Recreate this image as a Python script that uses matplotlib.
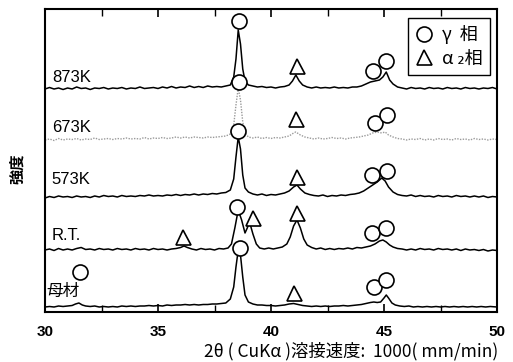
import matplotlib
matplotlib.use("Agg")
import matplotlib.pyplot as plt
from matplotlib.lines import Line2D
from matplotlib.ticker import MultipleLocator

plt.rcParams['font.family'] = ['Liberation Sans', 'Noto Sans CJK JP', 'DejaVu Sans']
CJK = ['Noto Sans CJK JP', 'DejaVu Sans']

# ---- data: (2theta, relative intensity) ----
s873 = [(30.0,0),(30.2,1.5),(30.4,0),(30.6,1),(30.8,-0.5),(31.0,1),(31.2,0),(31.4,2),(31.6,0.5),(31.8,1),
        (32.0,-0.5),(32.2,1),(32.4,0.5),(32.6,1.5),(32.8,0),(33.0,1),(33.2,0.5),(33.4,1.5),(33.6,0),(33.8,1),
        (34.0,0.5),(34.2,2),(34.4,0.5),(34.6,1),(34.8,1.5),(35.0,0.5),(35.2,2),(35.4,1),(35.6,2.5),(35.8,1),
        (36.0,2),(36.2,1.5),(36.4,3),(36.6,1.5),(36.8,2.5),(37.0,1.5),(37.2,3),(37.4,2),(37.6,2.5),(37.8,2),
        (38.0,3),(38.2,4),(38.35,12),(38.45,30),(38.55,59),(38.65,45),(38.75,20),(38.85,8),(39.0,4),(39.2,3),
        (39.4,2),(39.6,2.5),(39.8,1.5),(40.0,2),(40.2,1),(40.4,2),(40.6,2.5),(40.8,4),(40.95,8),(41.1,14),
        (41.25,8),(41.4,4),(41.6,2),(41.8,1),(42.0,2),(42.2,1),(42.4,1.5),(42.6,1),(42.8,2),(43.0,1),
        (43.2,1.5),(43.4,1),(43.6,2),(43.8,2),(44.0,3),(44.2,5),(44.4,7),(44.6,8),(44.8,9),(44.95,12),
        (45.1,17),(45.25,9),(45.4,5),(45.6,2),(45.8,1),(46.0,0),(46.2,1.5),(46.4,0.5),(46.6,1),(46.8,0),
        (47.0,1.5),(47.2,0.5),(47.4,1),(47.6,0),(47.8,1.5),(48.0,0.5),(48.2,1),(48.4,0),(48.6,1.5),(48.8,0.5),
        (49.0,1),(49.2,0),(49.4,1),(49.6,0.5),(49.8,1.5),(50.0,0)]

s673 = [(30.0,0),(30.2,1),(30.4,-0.5),(30.6,1.5),(30.8,0),(31.0,1),(31.2,0.5),(31.4,1.5),(31.6,0),(31.8,1),
        (32.0,0.5),(32.2,2),(32.4,0.5),(32.6,1),(32.8,1.5),(33.0,0.5),(33.2,1.5),(33.4,1),(33.6,2),(33.8,1),
        (34.0,1.5),(34.2,1),(34.4,2.5),(34.6,1),(34.8,2),(35.0,1.5),(35.2,2.5),(35.4,1.5),(35.6,2),(35.8,3),
        (36.0,2),(36.2,3),(36.4,2),(36.6,3),(36.8,2.5),(37.0,2),(37.2,3),(37.4,2.5),(37.6,3),(37.8,3.5),
        (38.0,4),(38.2,6),(38.35,15),(38.45,35),(38.55,52),(38.65,40),(38.75,18),(38.85,7),(39.0,3),(39.2,2),
        (39.4,3),(39.6,1.5),(39.8,2.5),(40.0,1.5),(40.2,2.5),(40.4,2),(40.6,3),(40.8,4),(41.0,7),(41.1,8),
        (41.3,5),(41.5,3),(41.7,2),(41.9,1),(42.1,2),(42.3,1),(42.5,1.5),(42.7,2.5),(42.9,1.5),(43.1,2),
        (43.3,1),(43.5,2),(43.7,2.5),(43.9,3),(44.1,4),(44.3,5),(44.5,7),(44.7,8),(44.9,7),(45.05,8),
        (45.2,5),(45.4,3),(45.6,1.5),(45.8,1),(46.0,0),(46.2,1),(46.4,0.5),(46.6,1.5),(46.8,0),(47.0,1),
        (47.2,0),(47.4,1.5),(47.6,0.5),(47.8,1),(48.0,0),(48.2,1.5),(48.4,0.5),(48.6,1),(48.8,0),(49.0,1.5),
        (49.2,0.5),(49.4,1),(49.6,0),(49.8,1),(50.0,0.5)]

s573 = [(30.0,-1),(30.2,0.5),(30.4,-0.5),(30.6,1),(30.8,0),(31.0,0.5),(31.2,-0.5),(31.4,1),(31.6,0),(31.8,0.5),
        (32.0,-0.5),(32.2,1),(32.4,0),(32.6,1.5),(32.8,0.5),(33.0,1),(33.2,0),(33.4,1.5),(33.6,0.5),(33.8,1),
        (34.0,0.5),(34.2,1.5),(34.4,1),(34.6,2),(34.8,1),(35.0,1.5),(35.2,1),(35.4,2),(35.6,1.5),(35.8,2.5),
        (36.0,1.5),(36.2,2.5),(36.4,2),(36.6,3),(36.8,2),(37.0,3),(37.2,2.5),(37.4,3.5),(37.6,3),(37.8,4),
        (38.0,4.5),(38.2,7),(38.35,18),(38.45,40),(38.55,60),(38.65,48),(38.75,22),(38.85,9),(39.0,5),(39.2,3),
        (39.4,2),(39.6,3),(39.8,1.5),(40.0,2.5),(40.2,2),(40.4,3),(40.6,4),(40.8,6),(41.0,10),(41.15,12),
        (41.3,8),(41.5,4),(41.7,2.5),(41.9,1.5),(42.1,1),(42.3,2),(42.5,0.5),(42.7,1.5),(42.9,1),(43.1,2),
        (43.3,1.5),(43.5,2.5),(43.7,3),(43.9,4),(44.1,6),(44.3,9),(44.5,12),(44.7,15),(44.9,19),(45.05,16),
        (45.2,10),(45.4,5),(45.6,2.5),(45.8,1.5),(46.0,1),(46.2,2),(46.4,0.5),(46.6,1.5),(46.8,0.5),(47.0,1),
        (47.2,0),(47.4,1.5),(47.6,0.5),(47.8,1),(48.0,0),(48.2,1.5),(48.4,0.5),(48.6,1),(48.8,0),(49.0,1),
        (49.2,0),(49.4,1),(49.6,-0.5),(49.8,0.5),(50.0,0)]

sRT = [(30.0,0),(30.2,1),(30.4,-0.5),(30.6,1.5),(30.8,0),(31.0,1),(31.2,0),(31.4,1.5),(31.6,2.5),(31.8,0.5),
       (32.0,1),(32.2,0),(32.4,1.5),(32.6,0.5),(32.8,1),(33.0,0),(33.2,1.5),(33.4,0.5),(33.6,1),(33.8,0),
       (34.0,1.5),(34.2,0.5),(34.4,1),(34.6,0),(34.8,1.5),(35.0,0.5),(35.2,1),(35.4,0),(35.6,1),(35.8,1.5),
       (36.0,2.5),(36.15,4),(36.3,2.5),(36.5,1),(36.7,0),(36.9,1.5),(37.1,0.5),(37.3,1),(37.5,0),(37.7,1.5),
       (37.9,1),(38.1,2),(38.25,6),(38.4,22),(38.55,40),(38.7,30),(38.85,17),(38.95,22),(39.05,28),(39.2,16),
       (39.35,6),(39.5,2),(39.7,1),(39.9,2),(40.1,1),(40.3,2),(40.5,3),(40.7,6),(40.85,13),(41.0,24),
       (41.15,30),(41.3,22),(41.45,11),(41.6,5),(41.8,2.5),(42.0,1),(42.2,2),(42.4,0.5),(42.6,1.5),(42.8,0.5),
       (43.0,1.5),(43.2,1),(43.4,2),(43.6,1),(43.8,2.5),(44.0,2),(44.2,3),(44.4,4),(44.6,6),(44.8,9),
       (44.95,10),(45.1,8),(45.25,5),(45.4,3),(45.6,1.5),(45.8,1),(46.0,0),(46.2,1),(46.4,0),(46.6,1.5),
       (46.8,0.5),(47.0,1),(47.2,0),(47.4,1.5),(47.6,0.5),(47.8,1),(48.0,0),(48.2,1),(48.4,-0.5),(48.6,1),
       (48.8,0),(49.0,0.5),(49.2,-0.5),(49.4,0.5),(49.6,-1),(49.8,0),(50.0,-0.5)]

sBase = [(30.0,0),(30.2,0.5),(30.4,0),(30.6,1),(30.8,0.5),(31.0,1),(31.2,1.5),(31.35,3),(31.5,4),(31.65,2),
         (31.8,1),(32.0,0.5),(32.2,1),(32.4,0),(32.6,0.5),(32.8,0),(33.0,0.5),(33.2,0),(33.4,1),(33.6,0.5),
         (33.8,1),(34.0,0.5),(34.2,1),(34.4,1),(34.6,1.5),(34.8,1),(35.0,1.5),(35.2,1),(35.4,2),(35.6,1.5),
         (35.8,2),(36.0,2),(36.2,2.5),(36.4,2),(36.6,2.5),(36.8,2),(37.0,2.5),(37.2,2.5),(37.4,3),(37.6,3),
         (37.8,3.5),(38.0,4),(38.2,8),(38.35,20),(38.45,40),(38.55,57),(38.65,52),(38.75,30),(38.85,12),(39.0,5),
         (39.2,3),(39.4,2),(39.6,2),(39.8,1.5),(40.0,1.5),(40.2,1),(40.4,1.5),(40.6,2),(40.8,3),(41.0,3.5),
         (41.2,2.5),(41.4,1.5),(41.6,1),(41.8,0.5),(42.0,1),(42.2,0.5),(42.4,1),(42.6,0.5),(42.8,1),(43.0,1),
         (43.2,1.5),(43.4,1),(43.6,1.5),(43.8,2),(44.0,2.5),(44.2,3.5),(44.4,4.5),(44.55,5),(44.7,4.5),(44.85,5),
         (45.0,9),(45.1,12),(45.2,9),(45.35,4),(45.5,2),(45.7,1),(45.9,0.5),(46.1,1),(46.3,0),(46.5,0.5),
         (46.7,0),(46.9,0.5),(47.1,0),(47.3,0.5),(47.5,0),(47.7,0.5),(47.9,0),(48.1,0.5),(48.3,0),(48.5,0.5),
         (48.7,0),(48.9,0.5),(49.1,0),(49.3,0.5),(49.5,0),(49.7,0.5),(50.0,0)]

series_names = ["873K", "673K", "573K", "R.T.", "母材"]
series_data = [s873, s673, s573, sRT, sBase]
offsets = [223, 172, 115, 62, 5]

# phase markers (2theta, level)
gamma_pts = [(38.6,291),(44.5,241),(45.1,251),
             (38.6,230),(44.6,189),(45.15,197),
             (38.55,181),(44.45,137),(45.15,141),
             (38.5,105),(44.45,79),(45.1,84),
             (31.55,40),(38.65,64),(44.55,25),(45.1,32)]
alpha2_pts = [(41.15,246),(41.1,193),(41.15,135),
              (36.1,75),(39.2,94),(41.15,99),(41.0,19)]

xticks = [30, 35, 40, 45, 50]

fig = plt.figure(figsize=(5.13, 3.62), dpi=100)
ax = fig.add_axes([45/513, 50/362, 452/513, 303/362])

styles = [dict(color='black', lw=1.1),
          dict(color='#9a9a9a', lw=1.0, ls=(0, (1, 1))),
          dict(color='black', lw=1.1),
          dict(color='black', lw=1.1),
          dict(color='black', lw=1.1)]

for name, data, off, st in zip(series_names, series_data, offsets, styles):
    xs = [p[0] for p in data]
    ys = [p[1] + off for p in data]
    ax.plot(xs, ys, **st)

ms = 10.8
ax.plot([p[0] for p in gamma_pts], [p[1] for p in gamma_pts], 'o', ms=ms,
        mfc='white', mec='black', mew=1.2, ls='none', zorder=5)
ax.plot([p[0] for p in alpha2_pts], [p[1] for p in alpha2_pts], '^', ms=ms,
        mfc='white', mec='black', mew=1.2, ls='none', zorder=5)

label_pos = [(30.3, 234), (30.3, 184), (30.3, 132), (30.3, 77), (30.05, 21)]
for name, (lx, ly) in zip(series_names, label_pos):
    ax.text(lx, ly, name, fontsize=12, va='center', ha='left', family=CJK if name == "母材" else None)

ax.set_xlim(30, 50)
ax.set_ylim(0, 303)
ax.set_yticks([])
ax.set_xticks(xticks)
ax.set_xticklabels([str(t) for t in xticks], fontweight='bold', fontsize=11)
ax.xaxis.set_minor_locator(MultipleLocator(2.5))
ax.tick_params(axis='x', which='both', direction='in', top=True, bottom=True, pad=9)
ax.tick_params(axis='x', which='major', length=6, width=1.2)
ax.tick_params(axis='x', which='minor', length=5, width=1.0)
for sp in ax.spines.values():
    sp.set_linewidth(1.5)

handles = [Line2D([], [], marker='o', ls='none', ms=ms, mfc='white', mec='black', mew=1.2),
           Line2D([], [], marker='^', ls='none', ms=ms, mfc='white', mec='black', mew=1.2)]
leg = ax.legend(handles, ["γ  相", "α ₂相"], loc='upper right', bbox_to_anchor=(0.985, 0.97),
                borderaxespad=0.0,
                frameon=True, fancybox=False, edgecolor='black', framealpha=1,
                handlelength=1.0, handletextpad=0.5, borderpad=0.4, labelspacing=0.3,
                prop={'family': CJK, 'size': 13})
leg.get_frame().set_linewidth(1.0)

fig.text(351/513, 1 - 351/362, "2θ ( CuKα )溶接速度:  1000( mm/min)", ha='center', va='center',
         fontsize=12.5, family=CJK)
fig.text(17/513, 1 - 169/362, "強度", rotation=90, ha='center', va='center',
         fontsize=11, family=CJK, fontweight='bold')

fig.savefig("out.png", dpi=100)
